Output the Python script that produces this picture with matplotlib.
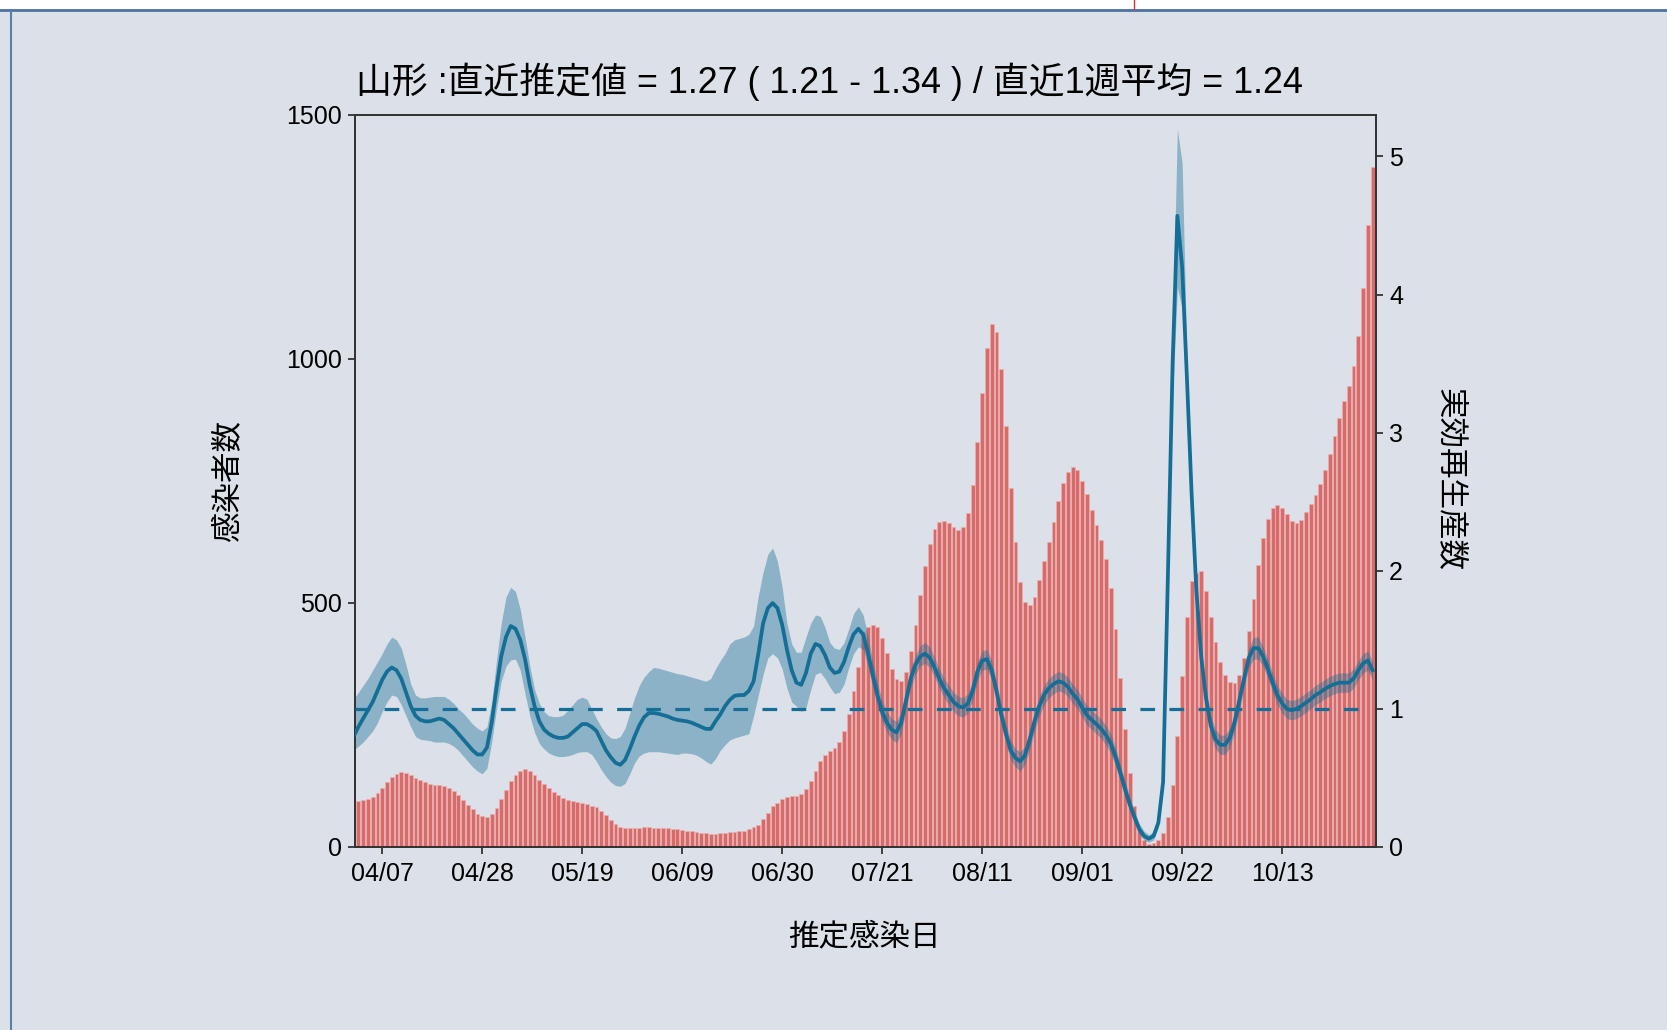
import numpy as np
import pandas as pd
import matplotlib
matplotlib.use("Agg")
import matplotlib.pyplot as plt
import matplotlib.dates as mdates
from matplotlib.patches import Rectangle
from matplotlib.lines import Line2D

plt.rcParams['font.family'] = ['Liberation Sans', 'Noto Sans CJK JP']

# ---- data ----
# infections by estimated infection date, 04/02 .. 11/01
bar_start = '2022-04-02'
cases = [
    95, 96, 98, 103, 110, 120, 133, 143, 150, 154, 152, 147, 141, 137, 133, 130, 128, 128, 125, 121,
    115, 106, 96, 86, 77, 68, 64, 62, 68, 80, 98, 117, 135, 148, 156, 159, 156, 148, 138, 129,
    120, 113, 107, 101, 96, 94, 92, 91, 88, 85, 81, 74, 65, 55, 47, 40, 38, 38, 38, 39,
    40, 40, 39, 38, 38, 38, 37, 36, 35, 33, 33, 31, 29, 28, 27, 27, 28, 29, 31, 31,
    33, 33, 36, 40, 46, 57, 69, 83, 91, 98, 102, 104, 105, 109, 118, 135, 156, 177, 189, 197,
    203, 215, 237, 273, 319, 369, 440, 450, 455, 450, 429, 397, 365, 344, 340, 359, 401, 455, 517, 575,
    621, 651, 667, 669, 664, 655, 649, 655, 684, 742, 829, 931, 1022, 1071, 1056, 980, 863, 736, 625, 544,
    502, 495, 513, 548, 586, 626, 667, 708, 745, 769, 779, 772, 750, 723, 691, 660, 630, 590, 531, 447,
    346, 242, 151, 84, 34, 14, 7, 9, 14, 28, 62, 128, 227, 350, 472, 545, 562, 565, 524, 471,
    421, 380, 352, 338, 336, 352, 388, 442, 509, 577, 633, 673, 694, 700, 695, 682, 668, 664, 671, 686,
    702, 722, 744, 773, 805, 843, 880, 913, 945, 986, 1047, 1146, 1275, 1393,
]

# effective reproduction number with interval, 04/01 .. 11/01
r_start = '2022-04-01'
r_mid = [
    0.80, 0.87, 0.93, 0.99, 1.05, 1.13, 1.21, 1.27, 1.30, 1.28, 1.22, 1.12, 1.02, 0.95, 0.92, 0.91, 0.91, 0.92, 0.93, 0.92,
    0.89, 0.86, 0.82, 0.78, 0.74, 0.70, 0.67, 0.67, 0.72, 0.90, 1.15, 1.38, 1.52, 1.60, 1.58, 1.50, 1.36, 1.17, 1.02, 0.91,
    0.85, 0.82, 0.80, 0.79, 0.79, 0.80, 0.83, 0.86, 0.89, 0.89, 0.87, 0.84, 0.77, 0.70, 0.65, 0.61, 0.595, 0.63, 0.71, 0.80,
    0.88, 0.94, 0.97, 0.97, 0.965, 0.955, 0.945, 0.93, 0.92, 0.915, 0.91, 0.90, 0.885, 0.87, 0.855, 0.855, 0.91, 0.96, 1.02, 1.065,
    1.095, 1.10, 1.10, 1.13, 1.20, 1.40, 1.62, 1.73, 1.766, 1.73, 1.61, 1.43, 1.28, 1.19, 1.174, 1.26, 1.40, 1.47, 1.455, 1.39,
    1.30, 1.26, 1.27, 1.34, 1.45, 1.54, 1.58, 1.54, 1.41, 1.25, 1.10, 0.98, 0.90, 0.85, 0.83, 0.90, 1.06, 1.22, 1.32, 1.38,
    1.40, 1.37, 1.30, 1.22, 1.15, 1.10, 1.05, 1.02, 1.01, 1.04, 1.13, 1.27, 1.35, 1.36, 1.28, 1.13, 0.96, 0.82, 0.70, 0.645,
    0.62, 0.665, 0.78, 0.91, 1.02, 1.10, 1.15, 1.18, 1.20, 1.19, 1.16, 1.11, 1.07, 1.01, 0.955, 0.92, 0.89, 0.855, 0.81, 0.75,
    0.655, 0.54, 0.42, 0.31, 0.215, 0.13, 0.08, 0.06, 0.08, 0.175, 0.47, 1.95, 3.5, 4.57, 4.2, 3.4, 2.55, 1.85, 1.38, 1.08,
    0.88, 0.78, 0.74, 0.74, 0.79, 0.90, 1.06, 1.22, 1.37, 1.44, 1.44, 1.38, 1.29, 1.19, 1.10, 1.04, 1.00, 0.99, 1.00, 1.02,
    1.045, 1.07, 1.10, 1.12, 1.145, 1.165, 1.18, 1.19, 1.19, 1.19, 1.22, 1.28, 1.33, 1.35, 1.28,
]
r_hi = [
    1.07, 1.12, 1.17, 1.22, 1.28, 1.34, 1.40, 1.47, 1.52, 1.50, 1.44, 1.32, 1.18, 1.10, 1.08, 1.08, 1.085, 1.09, 1.09, 1.09,
    1.07, 1.04, 1.00, 0.97, 0.93, 0.89, 0.86, 0.84, 0.87, 1.05, 1.35, 1.62, 1.81, 1.88, 1.85, 1.72, 1.52, 1.31, 1.14, 1.04,
    0.98, 0.95, 0.944, 0.944, 0.955, 0.99, 1.03, 1.07, 1.085, 1.07, 1.00, 0.93, 0.87, 0.82, 0.79, 0.785, 0.80, 0.86, 0.97, 1.08,
    1.17, 1.23, 1.27, 1.30, 1.295, 1.285, 1.275, 1.265, 1.255, 1.25, 1.24, 1.23, 1.22, 1.21, 1.20, 1.22, 1.29, 1.35, 1.40, 1.47,
    1.50, 1.51, 1.52, 1.54, 1.60, 1.82, 1.99, 2.12, 2.165, 2.07, 1.88, 1.62, 1.47, 1.41, 1.41, 1.52, 1.62, 1.68, 1.67, 1.59,
    1.48, 1.44, 1.43, 1.48, 1.58, 1.69, 1.74, 1.68, 1.53, 1.35, 1.19, 1.06, 0.98, 0.93, 0.91, 0.98, 1.13, 1.29, 1.39, 1.46,
    1.48, 1.45, 1.37, 1.29, 1.22, 1.17, 1.12, 1.09, 1.08, 1.11, 1.20, 1.34, 1.42, 1.43, 1.35, 1.20, 1.03, 0.89, 0.77, 0.71,
    0.69, 0.73, 0.85, 0.98, 1.09, 1.17, 1.22, 1.25, 1.27, 1.26, 1.23, 1.18, 1.14, 1.08, 1.025, 0.99, 0.96, 0.925, 0.88, 0.82,
    0.72, 0.60, 0.48, 0.36, 0.26, 0.17, 0.115, 0.09, 0.11, 0.21, 0.52, 2.05, 3.75, 5.20, 4.95, 3.55, 2.65, 1.93, 1.45, 1.15,
    0.95, 0.85, 0.81, 0.81, 0.86, 0.97, 1.13, 1.29, 1.44, 1.52, 1.52, 1.45, 1.36, 1.26, 1.17, 1.11, 1.07, 1.06, 1.07, 1.09,
    1.115, 1.14, 1.17, 1.19, 1.215, 1.235, 1.25, 1.26, 1.26, 1.26, 1.29, 1.35, 1.40, 1.42, 1.34,
]
r_lo = [
    0.70, 0.73, 0.76, 0.80, 0.84, 0.90, 0.98, 1.05, 1.10, 1.09, 1.03, 0.95, 0.87, 0.80, 0.78, 0.775, 0.77, 0.76, 0.76, 0.76,
    0.75, 0.73, 0.70, 0.66, 0.62, 0.58, 0.55, 0.53, 0.57, 0.76, 1.00, 1.20, 1.31, 1.355, 1.36, 1.28, 1.11, 0.95, 0.83, 0.75,
    0.71, 0.68, 0.665, 0.655, 0.655, 0.66, 0.67, 0.685, 0.69, 0.69, 0.67, 0.62, 0.56, 0.51, 0.47, 0.445, 0.44, 0.46, 0.53, 0.61,
    0.66, 0.68, 0.69, 0.69, 0.69, 0.685, 0.68, 0.675, 0.67, 0.68, 0.68, 0.675, 0.665, 0.645, 0.62, 0.60, 0.64, 0.70, 0.74, 0.775,
    0.79, 0.80, 0.81, 0.82, 0.95, 1.10, 1.25, 1.37, 1.40, 1.37, 1.29, 1.15, 1.05, 1.02, 0.98, 1.01, 1.14, 1.25, 1.265, 1.22,
    1.16, 1.11, 1.12, 1.18, 1.30, 1.40, 1.45, 1.43, 1.31, 1.16, 1.02, 0.91, 0.83, 0.78, 0.755, 0.82, 0.99, 1.15, 1.25, 1.31,
    1.33, 1.30, 1.23, 1.15, 1.08, 1.03, 0.98, 0.95, 0.94, 0.97, 1.06, 1.20, 1.28, 1.29, 1.21, 1.06, 0.89, 0.75, 0.63, 0.58,
    0.55, 0.60, 0.71, 0.84, 0.95, 1.03, 1.08, 1.11, 1.13, 1.12, 1.09, 1.04, 1.00, 0.94, 0.885, 0.85, 0.82, 0.785, 0.74, 0.68,
    0.59, 0.48, 0.36, 0.26, 0.17, 0.09, 0.05, 0.035, 0.05, 0.14, 0.42, 1.85, 3.25, 4.05, 3.90, 3.25, 2.45, 1.77, 1.31, 1.01,
    0.81, 0.71, 0.67, 0.67, 0.72, 0.83, 0.99, 1.15, 1.30, 1.36, 1.36, 1.31, 1.22, 1.12, 1.03, 0.97, 0.93, 0.92, 0.93, 0.95,
    0.975, 1.00, 1.03, 1.05, 1.075, 1.095, 1.11, 1.12, 1.12, 1.12, 1.15, 1.21, 1.26, 1.28, 1.21,
]

tick_dates = ['2022-04-07', '2022-04-28', '2022-05-19', '2022-06-09', '2022-06-30',
              '2022-07-21', '2022-08-11', '2022-09-01', '2022-09-22', '2022-10-13']
left_ticks = [0, 500, 1000, 1500]
right_ticks = [0, 1, 2, 3, 4, 5]

title = '山形 :直近推定値 = 1.27 ( 1.21 - 1.34 ) / 直近1週平均 = 1.24'

# ---- drawing ----
bg = '#dce0e8'
red = '#d96a6a'
blue = '#146e96'

bar_dates = pd.date_range(bar_start, periods=len(cases), freq='D')
r_dates = pd.date_range(r_start, periods=len(r_mid), freq='D')

fig = plt.figure(figsize=(16.67, 10.30), dpi=100, facecolor=bg)

# page frame bits around the chart
fig.patches.append(Rectangle((0, 1 - 9 / 1030), 1, 9 / 1030, transform=fig.transFigure,
                             facecolor='white', edgecolor='none', zorder=0))
fig.lines.append(Line2D([0, 1], [1 - 10 / 1030] * 2, transform=fig.transFigure,
                        color='#4d74a0', lw=2.0))
fig.lines.append(Line2D([10.5 / 1667] * 2, [0, 1 - 10 / 1030], transform=fig.transFigure,
                        color='#5a7eaa', lw=1.5))
fig.lines.append(Line2D([1134 / 1667] * 2, [1 - 9 / 1030, 1], transform=fig.transFigure,
                        color='#e03030', lw=1.0))

ax = fig.add_axes([354.7 / 1667, 183 / 1030, 1021 / 1667, 732 / 1030])
ax.set_facecolor('none')
ax.bar(bar_dates, cases, width=0.8, color=red, edgecolor='#eab0b0', linewidth=0.5, zorder=2)
ax.set_ylim(0, 1500)
ax.set_yticks(left_ticks)

x0 = mdates.date2num(bar_dates[0]) - 0.77
x1 = mdates.date2num(bar_dates[-1]) + 0.65
ax.set_xlim(x0, x1)
ax.set_xticks(pd.to_datetime(tick_dates))
ax.xaxis.set_major_formatter(mdates.DateFormatter('%m/%d'))

ax2 = ax.twinx()
ax2.fill_between(r_dates, r_lo, r_hi, color=blue, alpha=0.4, linewidth=0, zorder=2)
ax2.plot(r_dates, r_mid, color=blue, lw=2.7, zorder=3, solid_joinstyle='round')
ax2.plot([mdates.date2num(r_dates[0]) + 0.22, mdates.date2num(pd.Timestamp('2022-10-30')) + 0.3],
         [1, 1], color=blue, lw=2.3, dashes=(4.6, 4.5), zorder=3)
ax2.set_ylim(0, 5.3)
ax2.set_yticks(right_ticks)
ax2.set_xlim(x0, x1)

for a in (ax, ax2):
    for s in a.spines.values():
        s.set_linewidth(1.3)
        s.set_color('#333333')
    a.tick_params(labelsize=18, length=5, width=1.3, pad=4.5, color='#333333', labelcolor='black')
ax.tick_params(axis='x', pad=6)

fig.text(356 / 1667, 1 - 82 / 1030, title, ha='left', va='center', fontsize=25.8)
fig.text(229 / 1667, 1 - 481 / 1030, '感染者数', rotation=90, ha='center', va='center', fontsize=22)
fig.text(1449 / 1667, 1 - 480 / 1030, '実効再生産数', rotation=270, ha='center', va='center', fontsize=22)
fig.text(864 / 1667, 1 - 937 / 1030, '推定感染日', ha='center', va='center', fontsize=22)

fig.savefig('out.png', dpi=100, facecolor=bg)
